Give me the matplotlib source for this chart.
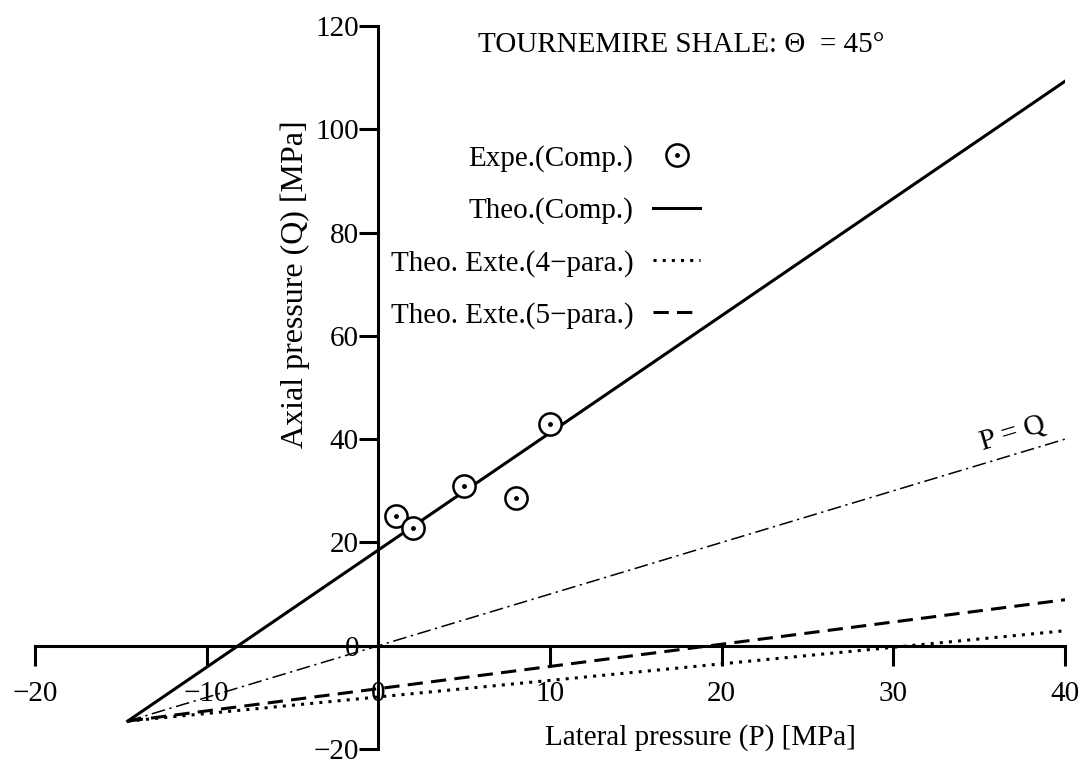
import matplotlib
matplotlib.use('Agg')
import matplotlib.pyplot as plt

plt.rcParams['font.family'] = ['Liberation Serif', 'DejaVu Serif']
plt.rcParams['mathtext.fontset'] = 'stix'

# experimental points (compression)
expe_p = [1.0, 2.0, 5.0, 8.0, 10.0]
expe_q = [25.2, 22.8, 30.9, 28.6, 42.9]

# theoretical straight lines, start and end points
theo_comp_p = [-14.6, 40.0]
theo_comp_q = [-14.6, 109.3]
theo_4para_p = [-14.6, 40.0]
theo_4para_q = [-14.6, 2.9]
theo_5para_p = [-14.6, 40.0]
theo_5para_q = [-14.6, 8.9]
pq_p = [-14.6, 40.0]
pq_q = [-14.6, 40.0]

x_ticks = [-20, -10, 0, 10, 20, 30, 40]
y_ticks = [-20, 0, 20, 40, 60, 80, 100, 120]

FS = 21
LW = 2.2

fig = plt.figure(figsize=(10.88, 7.6), dpi=100)
ax = fig.add_axes([35 / 1088, 11 / 760, 1030 / 1088, 723 / 760])
ax.set_xlim(-20, 40)
ax.set_ylim(-20, 120)

# axes crossing at the origin
for side in ('top', 'right'):
    ax.spines[side].set_visible(False)
ax.spines['left'].set_position(('data', 0))
ax.spines['bottom'].set_position(('data', 0))
for side in ('left', 'bottom'):
    ax.spines[side].set_linewidth(LW)
    ax.spines[side].set_zorder(1)
ax.set_xticks(x_ticks)
ax.set_yticks(y_ticks)
ax.tick_params(axis='x', direction='out', length=14.5, width=LW, pad=11, labelsize=FS)
ax.tick_params(axis='y', direction='out', length=14, width=LW, pad=0, labelsize=FS)

l_pq, = ax.plot(pq_p, pq_q, color='black', lw=1.1, dashes=(9, 3, 1.5, 3))
l_comp, = ax.plot(theo_comp_p, theo_comp_q, color='black', lw=LW)
l_4, = ax.plot(theo_4para_p, theo_4para_q, color='black', lw=LW, dashes=(1, 2))
l_5, = ax.plot(theo_5para_p, theo_5para_q, color='black', lw=LW, dashes=(5, 2.7))

m_ring, = ax.plot(expe_p, expe_q, ls='none', marker='o', ms=16, mfc='white',
                  mec='black', mew=1.8, zorder=3)
m_dot, = ax.plot(expe_p, expe_q, ls='none', marker='o', ms=2.5, color='black', zorder=4)

ax.text(37.2, 38.8, 'P = Q', fontsize=FS, rotation=16.8, ha='center', va='bottom',
        rotation_mode='anchor')

ax.text((681 - 35) / 1030, 0.974, 'TOURNEMIRE SHALE: \u0398  = 45\u00b0', transform=ax.transAxes,
        fontsize=FS, ha='center', va='center')

ax.set_xlabel('Lateral pressure (P) [MPa]', fontsize=FS)
ax.xaxis.label.set_verticalalignment('center')
ax.xaxis.set_label_coords((700 - 35) / 1030, (749 - 738) / 723)
ax.set_ylabel('Axial pressure (Q) [MPa]', fontsize=23)
ax.yaxis.label.set_verticalalignment('center')
ax.yaxis.set_label_coords((295 - 35) / 1030, (749 - 284) / 723)

ax.legend([(m_ring, m_dot), l_comp, l_4, l_5],
          ['Expe.(Comp.)', 'Theo.(Comp.)', 'Theo. Exte.(4\u2212para.)', 'Theo. Exte.(5\u2212para.)'],
          loc='center right', bbox_to_anchor=((700 - 35) / 1030, (749 - 237) / 723),
          frameon=False, markerfirst=False, fontsize=FS, handlelength=1.6,
          labelspacing=0.87, borderaxespad=0, borderpad=0, handletextpad=0.68)

fig.savefig('out.png', dpi=100)
